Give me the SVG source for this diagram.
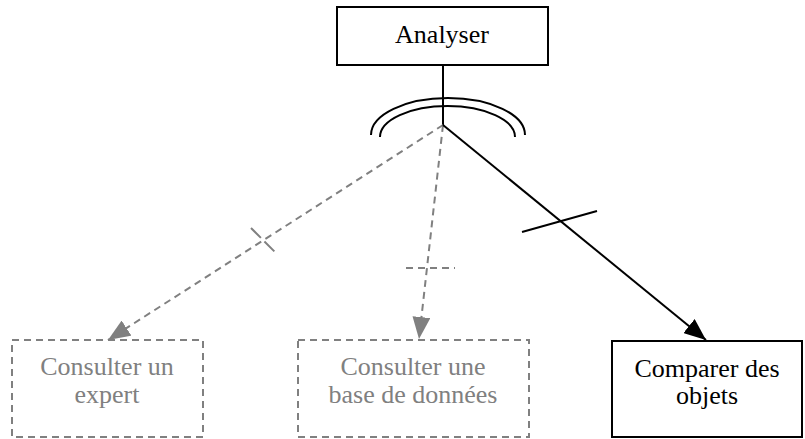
<svg xmlns="http://www.w3.org/2000/svg" width="805" height="439" viewBox="0 0 805 439">
<style>
  .t { font-family: "Liberation Serif", "Times New Roman", serif; font-size: 26px; text-anchor: middle; }
  .black { fill: #000; }
  .grey { fill: #808080; }
  .solidbox { fill: #fff; stroke: #000; stroke-width: 2; }
  .dashbox { fill: #fff; stroke: #808080; stroke-width: 2; stroke-dasharray: 7 5; }
  .solidline { fill: none; stroke: #000; stroke-width: 2; }
  .dashline { fill: none; stroke: #808080; stroke-width: 2; stroke-dasharray: 7 5; }
</style>
<defs>
  <marker id="ahGrey" markerWidth="22" markerHeight="18" refX="22" refY="9" orient="auto" markerUnits="userSpaceOnUse">
    <path d="M0,0 L22,9 L0,18 Z" fill="#808080"/>
  </marker>
  <marker id="ahBlack" markerWidth="22" markerHeight="18" refX="22" refY="9" orient="auto" markerUnits="userSpaceOnUse">
    <path d="M0,0 L22,9 L0,18 Z" fill="#000"/>
  </marker>
</defs>
<rect width="805" height="439" fill="#fff"/>
<g id="connectors">
  <line x1="443" y1="65" x2="443" y2="125" class="solidline"/>
  <path d="M371,135 A77,37 0 0 1 525,135" class="solidline"/>
  <path d="M380,137 A67.5,31 0 0 1 515,137" class="solidline"/>
  <line x1="443" y1="125" x2="108" y2="340" class="dashline" marker-end="url(#ahGrey)"/>
  <line x1="443" y1="125" x2="419" y2="339" class="dashline" marker-end="url(#ahGrey)"/>
  <line x1="443" y1="125" x2="706" y2="340" class="solidline" marker-end="url(#ahBlack)"/>
  <line x1="251" y1="228" x2="275" y2="252" class="dashline" stroke-dasharray="none" style="stroke-dasharray:14 5"/>
  <line x1="406" y1="268" x2="455" y2="268" class="dashline"/>
  <line x1="522" y1="232" x2="597" y2="211" class="solidline"/>
</g>
<g id="analyser">
  <rect x="337" y="7" width="211" height="58" class="solidbox"/>
  <text x="442" y="43" class="t black">Analyser</text>
</g>
<g id="expert">
  <rect x="12" y="340" width="191" height="97" class="dashbox"/>
  <text x="107" y="375" class="t grey">Consulter un</text>
  <text x="107" y="403" class="t grey">expert</text>
</g>
<g id="database">
  <rect x="298" y="340" width="231" height="97" class="dashbox"/>
  <text x="413" y="375" class="t grey">Consulter une</text>
  <text x="413" y="403" class="t grey">base de données</text>
</g>
<g id="compare">
  <rect x="612" y="341" width="190" height="96" class="solidbox"/>
  <text x="707" y="377" class="t black">Comparer des</text>
  <text x="707" y="404" class="t black">objets</text>
</g>
</svg>
